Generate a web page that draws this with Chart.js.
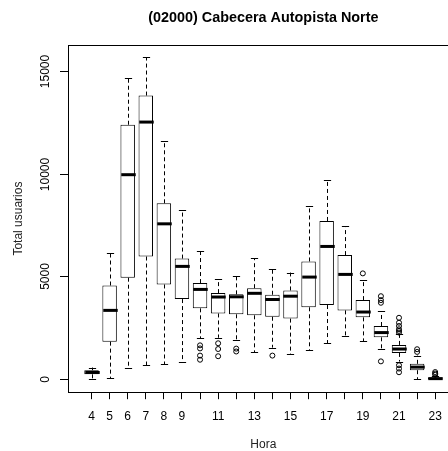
<!DOCTYPE html>
<html>
<head>
    <title>(02000) Cabecera Autopista Norte</title>
    <script src="https://cdn.jsdelivr.net/npm/chart.js"></script>
    <style>
        html, body { margin: 0; padding: 0; background: #fff; overflow: hidden; }
        .chart-box { width: 480px; height: 451px; }
    </style>
</head>
<body>
<div class="chart-box"><canvas id="box-chart"></canvas></div>
<script>
    // Hours on the x axis and the labels R managed to print
    const hours = [4, 5, 6, 7, 8, 9, 10, 11, 12, 13, 14, 15, 16, 17, 18, 19, 20, 21, 22, 23];
    const shownLabels = [4, 5, 6, 7, 8, 9, 11, 13, 15, 17, 19, 21, 23];
    const yTicks = [0, 5000, 10000, 15000];

    // Five-number summaries
    const whiskerLow  = [0,   50,   530,   680,   730,   860,  1990, 2020, 1890, 1310, 1540, 1210, 1410, 1760, 2090, 1850, 1460,  860,    0,   0];
    const q1          = [240, 1830, 4940,  5970,  4610,  3900, 3450, 3200, 3160, 3110, 3040, 2950, 3500, 3610, 3350, 3010, 2040, 1280,  440,   0];
    const medians     = [330, 3350, 9950,  12510, 7560,  5490, 4370, 4000, 4010, 4180, 3880, 4040, 4970, 6460, 5100, 3270, 2270, 1470,  590,  30];
    const q3          = [440, 4560, 12380, 13800, 8560,  5870, 4680, 4190, 4130, 4430, 4110, 4320, 5730, 7700, 6040, 3850, 2590, 1670,  750,  90];
    const whiskerHigh = [570, 6130, 14630, 15660, 11590, 8220, 6230, 4870, 5000, 5890, 5350, 5190, 8450, 9680, 7440, 4820, 3300, 2180, 1150, 180];

    // Outliers per hour
    const outliers = [
        [], [], [], [], [], [],
        [1650, 1500, 1150, 950],
        [1750, 1470, 1120],
        [1490, 1350],
        [],
        [1150],
        [], [], [], [],
        [5150],
        [4040, 3850, 3720, 870],
        [2990, 2750, 2590, 2430, 2350, 2270, 680, 520, 340],
        [1460, 1330],
        [350, 280, 220]
    ];

    const fontFamily = '"Liberation Sans", Arial, sans-serif';

    const boxData = hours.map((h, i) => ({ x: i + 1, y: [q1[i], q3[i]] }));
    const outlierData = [];
    outliers.forEach((list, i) => list.forEach(v => outlierData.push({ x: i + 1, y: v })));

    // Whiskers, staples, medians, frame and the rotated y axis
    const boxplotExtras = {
        id: 'boxplotExtras',
        afterDatasetsDraw(chart) {
            const ctx = chart.ctx;
            const xs = chart.scales.x;
            const ys = chart.scales.y;
            const bars = chart.getDatasetMeta(0).data;
            ctx.save();
            ctx.strokeStyle = '#000';
            hours.forEach((h, i) => {
                const x = Math.round(xs.getPixelForValue(i + 1)) + 0.5;
                const half = bars[i].width / 2;
                const staple = half / 2;
                ctx.lineWidth = 1;
                ctx.setLineDash([4, 3]);
                ctx.beginPath();
                ctx.moveTo(x, ys.getPixelForValue(q3[i]));
                ctx.lineTo(x, ys.getPixelForValue(whiskerHigh[i]));
                ctx.moveTo(x, ys.getPixelForValue(q1[i]));
                ctx.lineTo(x, ys.getPixelForValue(whiskerLow[i]));
                ctx.stroke();
                ctx.setLineDash([]);
                ctx.beginPath();
                const yh = Math.round(ys.getPixelForValue(whiskerHigh[i])) + 0.5;
                const yl = Math.round(ys.getPixelForValue(whiskerLow[i])) + 0.5;
                ctx.moveTo(x - staple, yh);
                ctx.lineTo(x + staple, yh);
                ctx.moveTo(x - staple, yl);
                ctx.lineTo(x + staple, yl);
                ctx.stroke();
                ctx.lineWidth = 3;
                ctx.beginPath();
                const ym = ys.getPixelForValue(medians[i]);
                ctx.moveTo(x - half, ym);
                ctx.lineTo(x + half, ym);
                ctx.stroke();
            });

            const a = chart.chartArea;
            ctx.lineWidth = 1;
            ctx.strokeRect(Math.round(a.left) + 0.5, Math.round(a.top) + 0.5,
                Math.round(a.right - a.left), Math.round(a.bottom - a.top));

            ctx.fillStyle = '#000';
            ctx.font = '12px ' + fontFamily;
            ctx.textAlign = 'center';
            ctx.textBaseline = 'middle';
            yTicks.forEach(v => {
                const y = Math.round(ys.getPixelForValue(v)) + 0.5;
                ctx.beginPath();
                ctx.moveTo(a.left - 8, y);
                ctx.lineTo(a.left, y);
                ctx.stroke();
                ctx.save();
                ctx.translate(a.left - 22, y);
                ctx.rotate(-Math.PI / 2);
                ctx.fillText(String(v), 0, 0);
                ctx.restore();
            });
            ctx.fillStyle = '#222';
            ctx.save();
            ctx.translate(a.left - 49, (a.top + a.bottom) / 2);
            ctx.rotate(-Math.PI / 2);
            ctx.fillText('Total usuarios', 0, 0);
            ctx.restore();
            ctx.restore();
        }
    };

    new Chart(document.getElementById('box-chart'), {
        type: 'bar',
        data: {
            datasets: [
                {
                    label: 'Caja',
                    data: boxData,
                    backgroundColor: '#fff',
                    borderColor: '#000',
                    borderWidth: 1,
                    borderSkipped: false,
                    barPercentage: 0.8,
                    categoryPercentage: 1
                },
                {
                    type: 'line',
                    label: 'Atípicos',
                    data: outlierData,
                    showLine: false,
                    pointRadius: 2.5,
                    pointBorderWidth: 1,
                    pointBorderColor: '#000',
                    pointBackgroundColor: 'rgba(0,0,0,0)'
                }
            ]
        },
        options: {
            responsive: true,
            maintainAspectRatio: false,
            animation: false,
            layout: { padding: { left: 68, right: 21.3, top: 0, bottom: -1 } },
            plugins: {
                legend: { display: false },
                tooltip: { enabled: false },
                title: {
                    display: true,
                    text: '(02000) Cabecera Autopista Norte',
                    color: '#000',
                    font: { family: fontFamily, size: 14.4, weight: 'bold' },
                    padding: { top: 9, bottom: 18.7 }
                }
            },
            scales: {
                x: {
                    type: 'linear',
                    offset: false,
                    min: -0.3,
                    max: 21.3,
                    afterBuildTicks: axis => { axis.ticks = hours.map((h, i) => ({ value: i + 1 })); },
                    grid: { display: true, offset: false, drawOnChartArea: false, drawTicks: true, tickLength: 7, color: '#000' },
                    border: { display: false },
                    ticks: {
                        autoSkip: false,
                        maxRotation: 0,
                        padding: 10,
                        color: '#000',
                        font: { family: fontFamily, size: 12 },
                        callback: v => {
                            const h = hours[v - 1];
                            return shownLabels.includes(h) ? String(h) : '';
                        }
                    },
                    title: {
                        display: true,
                        text: 'Hora',
                        color: '#222',
                        font: { family: fontFamily, size: 12 },
                        padding: { top: 4, bottom: 0 }
                    }
                },
                y: {
                    display: false,
                    min: -630,
                    max: 16260
                }
            }
        },
        plugins: [boxplotExtras]
    });
</script>
</body>
</html>
